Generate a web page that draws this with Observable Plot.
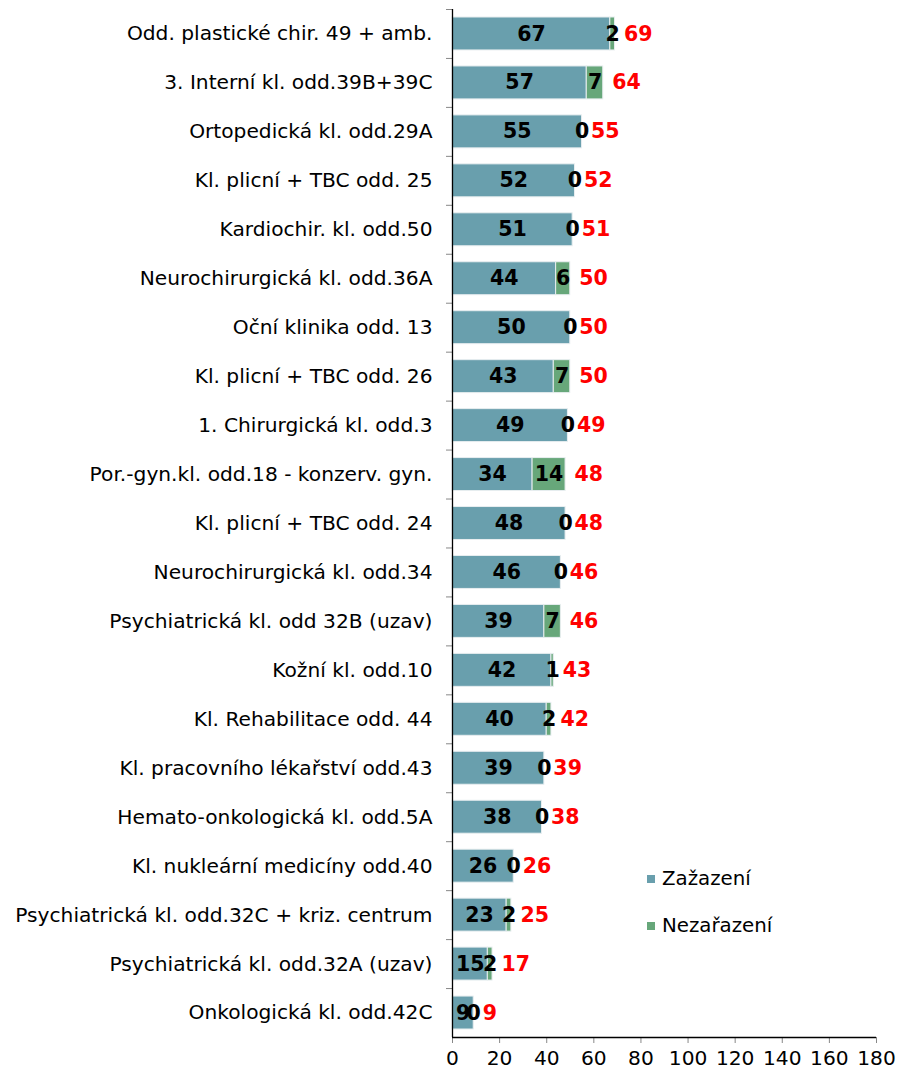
<!DOCTYPE html>
<html><head><meta charset="utf-8">
<script src="https://cdn.jsdelivr.net/npm/d3@7"></script>
<script src="https://cdn.jsdelivr.net/npm/@observablehq/plot@0.6"></script>
<style>
body{margin:0;background:#fff;font-family:"DejaVu Sans",Verdana,sans-serif;}
#wrap{position:relative;width:897px;height:1075px;}
.leg{position:absolute;font-size:19.8px;color:#000;display:flex;align-items:center;line-height:22px;}
.leg span.sw{display:inline-block;width:8px;height:8px;margin-right:7px;}
</style></head>
<body><div id="wrap"></div>
<script>
const categories = [
 "Odd. plastické chir. 49 + amb.",
 "3. Interní kl. odd.39B+39C",
 "Ortopedická kl. odd.29A",
 "Kl. plicní + TBC odd. 25",
 "Kardiochir. kl. odd.50",
 "Neurochirurgická kl. odd.36A",
 "Oční klinika odd. 13",
 "Kl. plicní + TBC odd. 26",
 "1. Chirurgická kl. odd.3",
 "Por.-gyn.kl. odd.18 - konzerv. gyn.",
 "Kl. plicní + TBC odd. 24",
 "Neurochirurgická kl. odd.34",
 "Psychiatrická kl. odd 32B (uzav)",
 "Kožní kl. odd.10",
 "Kl. Rehabilitace odd. 44",
 "Kl. pracovního lékařství odd.43",
 "Hemato-onkologická kl. odd.5A",
 "Kl. nukleární medicíny odd.40",
 "Psychiatrická kl. odd.32C + kriz. centrum",
 "Psychiatrická kl. odd.32A (uzav)",
 "Onkologická kl. odd.42C"
];
const zarazeni   = [67,57,55,52,51,44,50,43,49,34,48,46,39,42,40,39,38,26,23,15,9];
const nezarazeni = [2,7,0,0,0,6,0,7,0,14,0,0,7,1,2,0,0,0,2,2,0];
const totals     = [69,64,55,52,51,50,50,50,49,48,48,46,46,43,42,39,38,26,25,17,9];
const seriesNames = ["Zažazení","Nezařazení"];
const colors = ["#699FAD","#67A77A"];
const xTicks = [0,20,40,60,80,100,120,140,160,180];

const rows = [];
categories.forEach((c,i)=>{
  rows.push({cat:c, series:seriesNames[0], x1:0, x2:zarazeni[i], v:zarazeni[i]});
  rows.push({cat:c, series:seriesNames[1], x1:zarazeni[i], x2:zarazeni[i]+nezarazeni[i], v:nezarazeni[i]});
});
const totalRows = categories.map((c,i)=>({cat:c, total:totals[i]}));

const W=897, H=1075, mTop=9, mBottom=38, mLeft=452, mRight=21;
const step = (H - mTop - mBottom) / categories.length;

const chart = Plot.plot({
  width: W, height: H,
  marginTop: mTop, marginBottom: mBottom, marginLeft: mLeft, marginRight: mRight,
  style: {fontFamily: '"DejaVu Sans", Verdana, sans-serif', fontSize: "20px", background: "#fff"},
  x: {domain: [0,180], ticks: xTicks, label: null},
  y: {domain: categories, padding: 0, round: false, label: null},
  color: {domain: seriesNames, range: colors},
  marks: [
    Plot.barX(rows, {y:"cat", x1:"x1", x2:"x2", fill:"series", stroke:"#e8eef0", strokeWidth:1, insetTop:8, insetBottom:8}),
    Plot.text(rows, {y:"cat", x: d => (d.x1+d.x2)/2, text: d => String(d.v), fill:"#000", fontWeight:"bold", fontSize:20.5}),
    Plot.text(totalRows, {y:"cat", x:"total", text: d => String(d.total), fill:"#ff0000", fontWeight:"bold", fontSize:20.5, textAnchor:"start", dx:9}),
    Plot.axisX({ticks: xTicks, tickSize: 6, tickPadding: 7, stroke:"#888", fontSize: 20.2, color:"#000"}),
    Plot.axisY({tickSize: 0, tickPadding: 20, fontSize: 20.2, color:"#000"}),
    Plot.ruleY(categories, {y: d=>d, dy: -step/2, x1: 0, x2: 0, insetLeft: -6, stroke:"#888"}),
    Plot.ruleX([0], {stroke:"#000", strokeWidth:1.3}),
    Plot.ruleY([0], {y: () => categories[categories.length-1], dy: step/2, x1:0, x2:180, stroke:"#000", strokeWidth:1.3})
  ]
});
document.getElementById("wrap").appendChild(chart);

const legendTops = [868, 915];
seriesNames.forEach((s,i)=>{
  const d = document.createElement("div");
  d.className = "leg";
  d.style.left = "647px";
  d.style.top = legendTops[i] + "px";
  d.innerHTML = '<span class="sw" style="background:'+colors[i]+'"></span>' + s;
  document.getElementById("wrap").appendChild(d);
});
</script></body></html>
